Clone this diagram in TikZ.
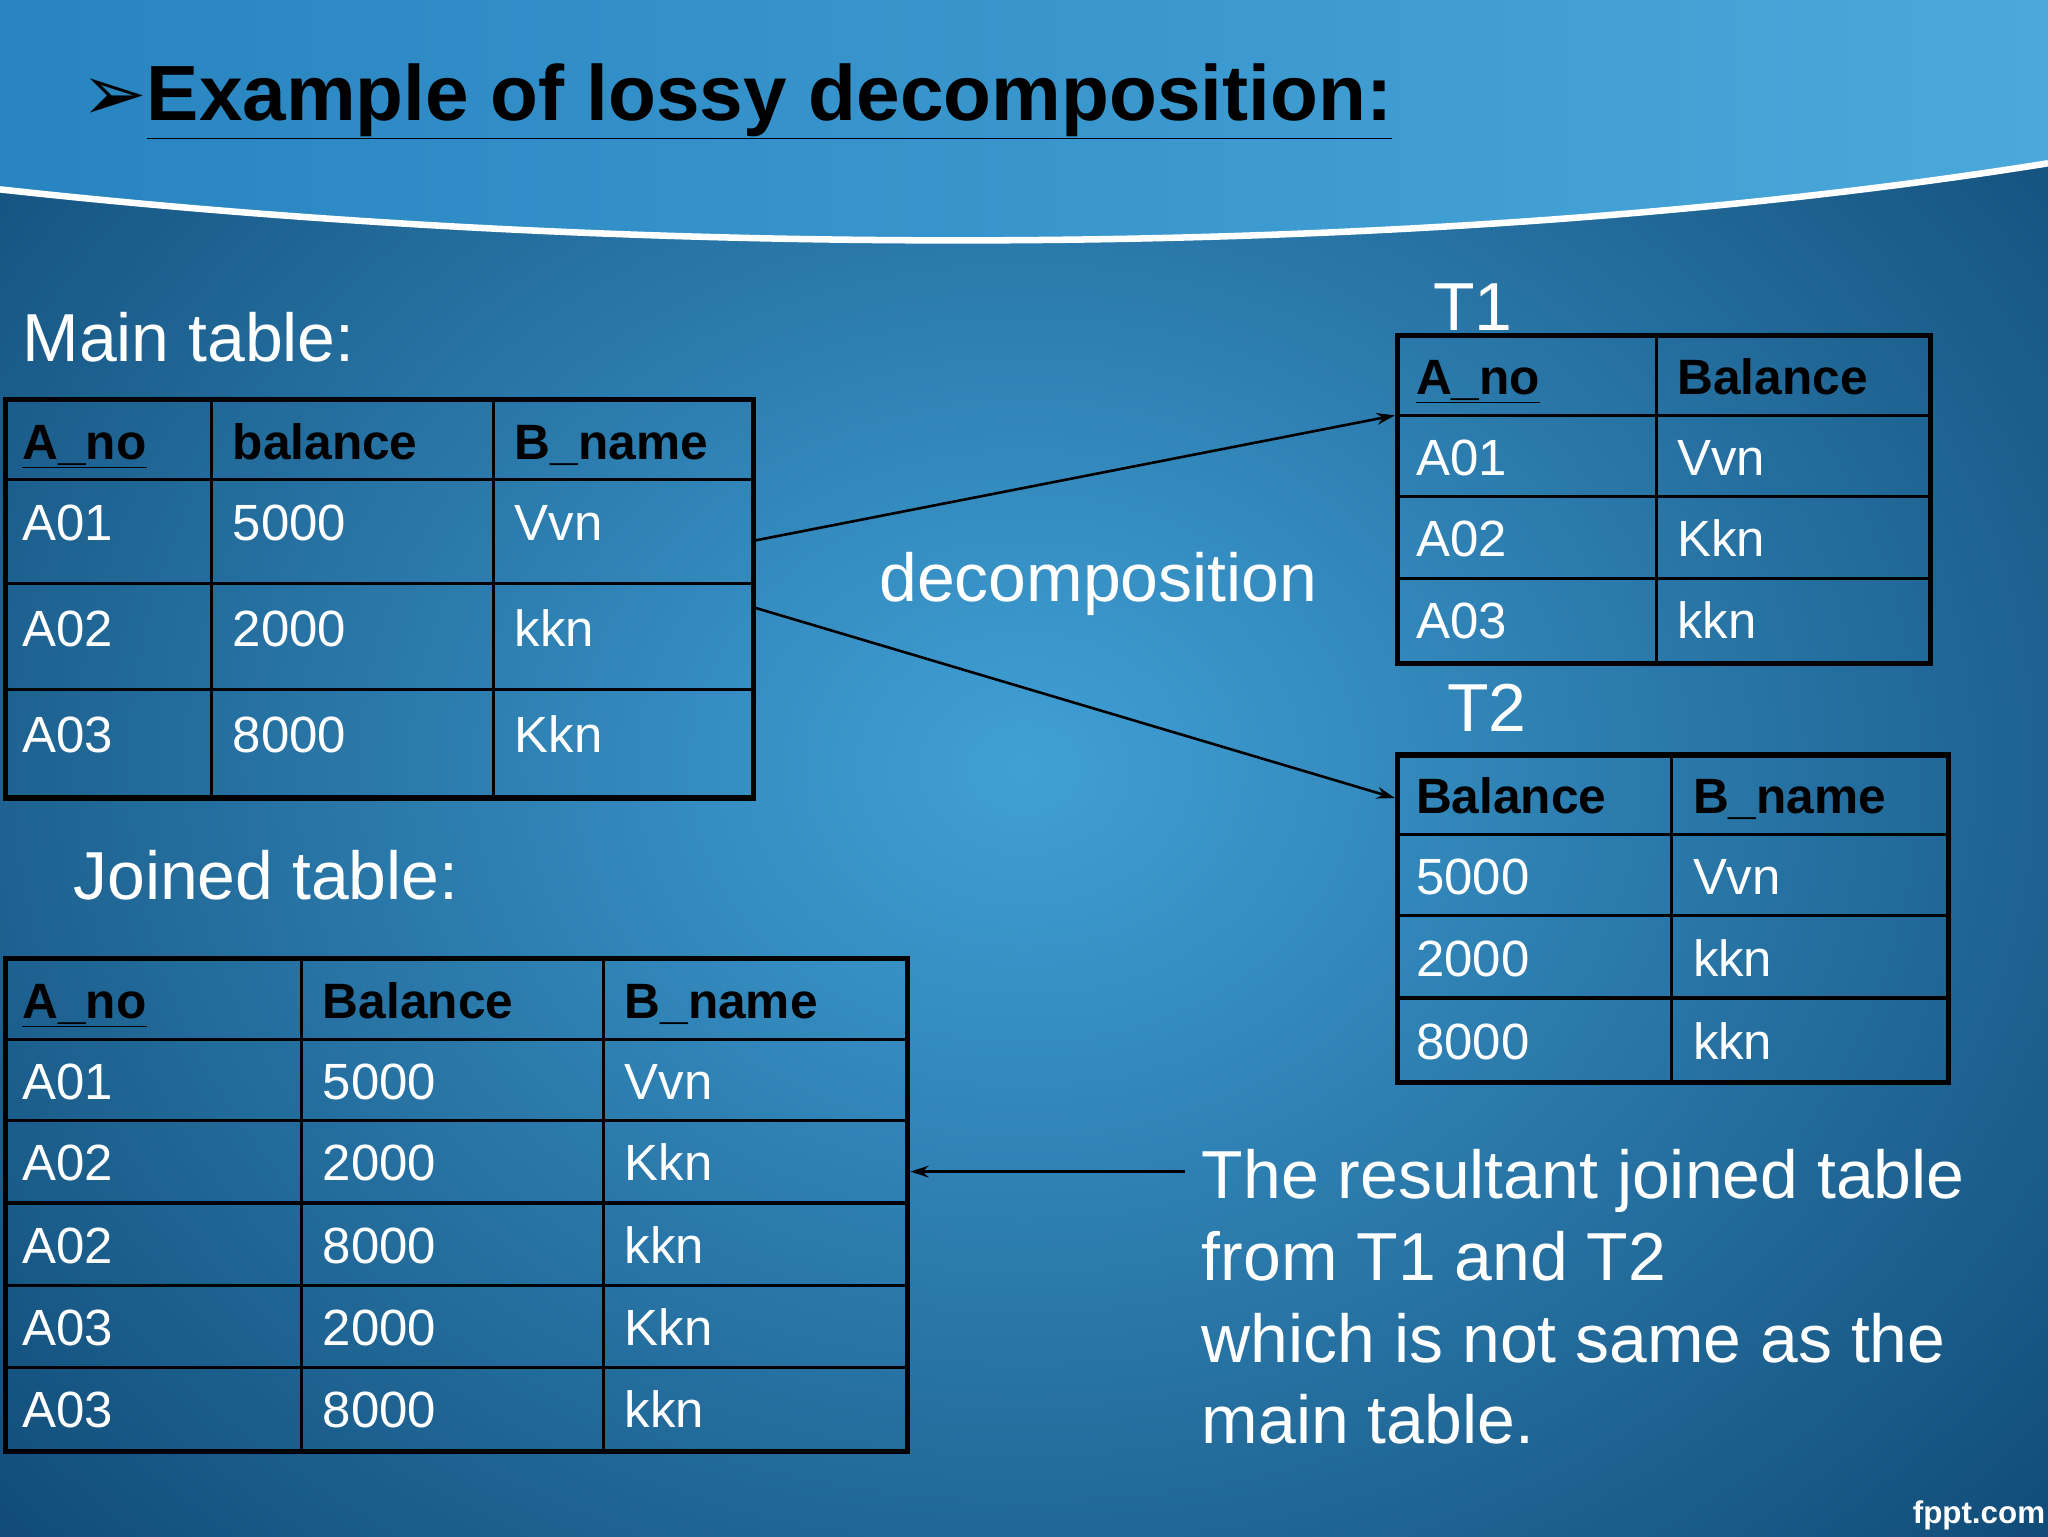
\documentclass[tikz,border=0pt]{standalone}
\usepackage{fontspec}
\setmainfont{Liberation Sans}
\newfontfamily\symf{DejaVu Sans}
\usetikzlibrary{arrows.meta}
\definecolor{bgin}{RGB}{64,160,214}
\definecolor{bgout}{RGB}{16,74,118}
\definecolor{bandl}{RGB}{40,132,192}
\definecolor{bandr}{RGB}{74,168,218}
\tikzset{
  cellt/.style={anchor=base west,yshift=-14pt,text=white,font=\fontsize{39}{44}\selectfont,inner sep=0pt},
  headt/.style={anchor=base west,yshift=-14pt,text=black,font=\bfseries\fontsize{38}{44}\selectfont,inner sep=0pt},
  lbl/.style={anchor=west,text=white,font=\fontsize{52}{60}\selectfont,inner sep=0pt},
  outer/.style={draw=black,line width=4pt,inner sep=0pt},
  grid/.style={draw=black,line width=2.5pt},
  conn/.style={draw=black,line width=2pt,-{Stealth[length=14pt,width=9pt]}}
}
\newcommand\ul[1]{\underline{#1}}
\begin{document}
\begin{tikzpicture}[x=1pt,y=-1pt]
\useasboundingbox (0,0) rectangle (1568,1176);
\shade[inner color=bgin,outer color=bgout] (-300,-300) rectangle (1868,1476);
\shade[left color=bandl,right color=bandr] (0,0) -- (0,145) .. controls (500,200) and (1100,200) .. (1568,125) -- (1568,0) -- cycle;
\draw[white,line width=5pt] (0,145) .. controls (500,200) and (1100,200) .. (1568,125);
\node[anchor=base west,inner sep=0pt,font=\fontsize{60}{66}\selectfont] (title) at (62,92) {{\symf\bfseries ➢}\bfseries\ul{Example of lossy decomposition:}};

% Main table
\node[outer,minimum width=573pt,minimum height=305pt,anchor=north west] (mt) at (2,304) {};
\draw[grid] (162,304) -- (162,609) (378,304) -- (378,609) (2,367) -- (575,367) (2,447) -- (575,447) (2,528) -- (575,528);
\node[headt] (mh1) at (17,338) {\ul{A\_no}};
\node[headt] (mh2) at (178,338) {balance};
\node[headt] (mh3) at (394,338) {B\_name};
\foreach \a/\b/\c/\y [count=\i] in {A01/5000/Vvn/400,A02/2000/kkn/481,A03/8000/Kkn/562}{
  \node[cellt] (ma\i) at (17,\y) {\a};
  \node[cellt] (mb\i) at (178,\y) {\b};
  \node[cellt] (mc\i) at (394,\y) {\c};
}
\node[lbl] (mlab) at (17,258) {Main table:};

% T1
\node[outer,minimum width=408pt,minimum height=251pt,anchor=north west] (t1) at (1068,255) {};
\draw[grid] (1268,255) -- (1268,506) (1068,318) -- (1476,318) (1068,380) -- (1476,380) (1068,443) -- (1476,443);
\node[headt] (th1) at (1084,288) {\ul{A\_no}};
\node[headt] (th2) at (1284,288) {Balance};
\foreach \a/\b/\y [count=\i] in {A01/Vvn/350,A02/Kkn/412,A03/kkn/475}{
  \node[cellt] (ta\i) at (1084,\y) {\a};
  \node[cellt] (tb\i) at (1284,\y) {\b};
}
\node[lbl] (t1lab) at (1097,235) {T1};

% T2
\node[outer,minimum width=422pt,minimum height=251pt,anchor=north west] (t2) at (1068,576) {};
\draw[grid] (1280,576) -- (1280,827) (1068,639) -- (1490,639) (1068,701) -- (1490,701) (1068,764) -- (1490,764);
\node[headt] (uh1) at (1084,609) {Balance};
\node[headt] (uh2) at (1296,609) {B\_name};
\foreach \a/\b/\y [count=\i] in {5000/Vvn/671,2000/kkn/734,8000/kkn/797}{
  \node[cellt] (ua\i) at (1084,\y) {\a};
  \node[cellt] (ub\i) at (1296,\y) {\b};
}
\node[lbl] (t2lab) at (1108,542) {T2};

% Joined
\node[outer,minimum width=691pt,minimum height=377pt,anchor=north west] (jt) at (2,732) {};
\draw[grid] (231,732) -- (231,1109) (462,732) -- (462,1109)
  (2,796) -- (693,796) (2,858) -- (693,858) (2,921) -- (693,921) (2,984) -- (693,984) (2,1047) -- (693,1047);
\node[headt] (jh1) at (17,766) {\ul{A\_no}};
\node[headt] (jh2) at (247,766) {Balance};
\node[headt] (jh3) at (478,766) {B\_name};
\foreach \a/\b/\c/\y [count=\i] in {A01/5000/Vvn/828,A02/2000/Kkn/890,A02/8000/kkn/953,A03/2000/Kkn/1016,A03/8000/kkn/1079}{
  \node[cellt] (ja\i) at (17,\y) {\a};
  \node[cellt] (jb\i) at (247,\y) {\b};
  \node[cellt] (jc\i) at (478,\y) {\c};
}
\node[lbl] (jlab) at (56,670) {Joined table:};

\node[lbl] (dec) at (673,447) {decomposition};
\node[lbl,anchor=north west,align=left,font=\fontsize{52}{62.5}\selectfont] (note) at (920,880) {The resultant joined table\\from T1 and T2\\which is not same as the\\main table.};
\node[anchor=east,inner sep=0pt,text=white,font=\bfseries\fontsize{24}{28}\selectfont] (fppt) at (1566,1160) {fppt.com};

\coordinate (a1s) at (577,414);
\coordinate (a1e) at (1068,318);
\coordinate (a2s) at (577,465);
\coordinate (a2e) at (1068,611);
\coordinate (a3s) at (907,897);
\coordinate (a3e) at (697,897);
\draw[conn] (a1s) -- (a1e);
\draw[conn] (a2s) -- (a2e);
\draw[conn] (a3s) -- (a3e);
\end{tikzpicture}
\end{document}
